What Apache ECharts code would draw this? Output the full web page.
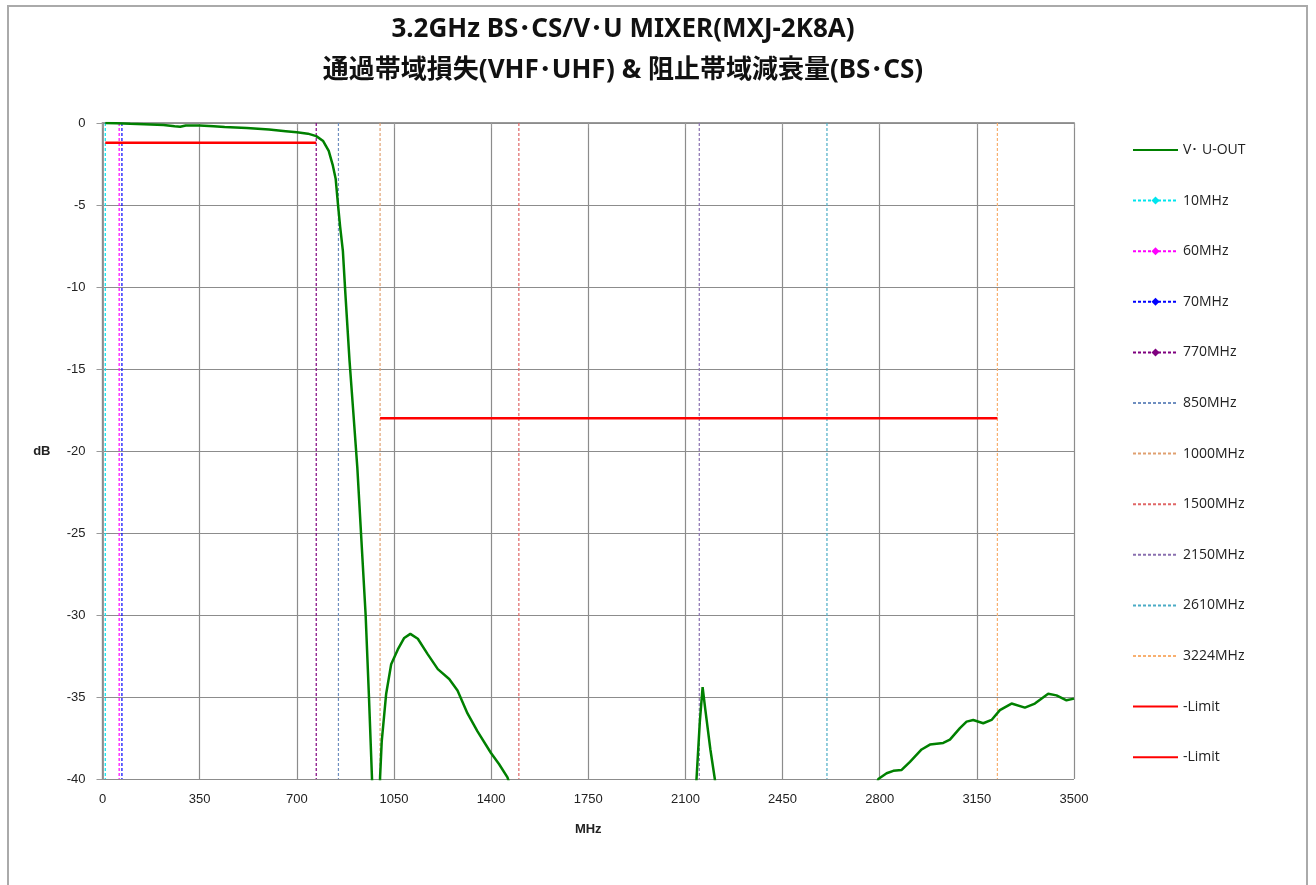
<!DOCTYPE html>
<html>
<head>
<meta charset="utf-8">
<script src="https://cdn.jsdelivr.net/npm/echarts@6/dist/echarts.min.js"></script>
<style>html,body{margin:0;padding:0;background:#fff;}#c{width:1316px;height:885px;}</style>
</head>
<body>
<div id="c"></div>
<script>
const titleLines = ['3.2GHz BS･CS/V･U MIXER(MXJ-2K8A)', '通過帯域損失(VHF･UHF) & 阻止帯域減衰量(BS･CS)'];
const xTicks = [0, 350, 700, 1050, 1400, 1750, 2100, 2450, 2800, 3150, 3500];
const yTicks = [0, -5, -10, -15, -20, -25, -30, -35, -40];

// V・U-OUT response [MHz, dB]
const vuOut = [
  [10, 0], [50, -0.02], [100, -0.05], [150, -0.07], [220, -0.12], [260, -0.2], [280, -0.23], [300, -0.15],
  [350, -0.15], [400, -0.2], [440, -0.25], [520, -0.3], [600, -0.4], [660, -0.5], [700, -0.57],
  [740, -0.65], [770, -0.8], [795, -1.1], [815, -1.7], [830, -2.6], [840, -3.4], [848, -4.9],
  [856, -6.3], [866, -7.8], [875, -10.4], [890, -14.5], [903, -17.5], [918, -21], [933, -25.5],
  [948, -30], [960, -35], [971, -40], [980, -44], [990, -45], [998, -42], [1000, -39.9],
  [1006, -37.7], [1022, -34.8], [1040, -33], [1064, -32.1], [1087, -31.4], [1109, -31.15],
  [1136, -31.45], [1172, -32.4], [1208, -33.3], [1249, -33.9], [1279, -34.6], [1315, -36],
  [1351, -37.1], [1399, -38.4], [1429, -39.1], [1459, -39.9], [1480, -41], [1600, -48],
  [1900, -52], [2100, -46], [2130, -43], [2140, -40], [2152, -36.5], [2162, -34.4],
  [2172, -35.8], [2190, -38.2], [2206, -40], [2220, -42], [2400, -50], [2700, -46],
  [2780, -41], [2795, -40], [2825, -39.65], [2849, -39.5], [2879, -39.45], [2909, -38.95],
  [2951, -38.2], [2981, -37.9], [3029, -37.8], [3053, -37.6], [3089, -36.9], [3113, -36.5],
  [3137, -36.4], [3173, -36.6], [3203, -36.4], [3233, -35.8], [3275, -35.4], [3323, -35.65],
  [3359, -35.4], [3407, -34.8], [3437, -34.9], [3473, -35.2], [3500, -35.1]
];

const markerNames = ['10MHz', '60MHz', '70MHz', '770MHz', '850MHz', '1000MHz', '1500MHz', '2150MHz', '2610MHz', '3224MHz'];
const markerFreqs = [10, 60, 70, 770, 850, 1000, 1500, 2150, 2610, 3224];
const markerColors = ['#00e5ee', '#ff00ff', '#0000ff', '#7f007f', '#6f8fc0', '#e0a070', '#e06666', '#8a70b0', '#4bacc6', '#f8b070'];
const markerHasSymbol = [true, true, true, true, false, false, false, false, false, false];

const limitPass = [[10, -1.2], [770, -1.2]];
const limitStop = [[1000, -18], [3224, -18]];

const mainName = 'V･ U-OUT';
const series = [];
series.push({
  name: mainName, type: 'line', data: vuOut, symbol: 'none', clip: true,
  lineStyle: { color: '#008000', width: 2.5 }, itemStyle: { color: '#008000' }, z: 5
});
markerNames.forEach((n, i) => {
  series.push({
    name: n, type: 'line', data: [[markerFreqs[i], 0], [markerFreqs[i], -40]],
    symbol: 'diamond', symbolSize: 8, showSymbol: false,
    lineStyle: { color: markerColors[i], width: 1.2, type: [3, 2] },
    itemStyle: { color: markerColors[i] }, z: 3
  });
});
series.push({ name: '-Limit', type: 'line', data: limitPass, symbol: 'none', lineStyle: { color: '#ff0000', width: 2.5 }, itemStyle: { color: '#ff0000' }, z: 4 });
series.push({ name: '-Limit ', type: 'line', data: limitStop, symbol: 'none', lineStyle: { color: '#ff0000', width: 2.5 }, itemStyle: { color: '#ff0000' }, z: 4 });

const hidden = { opacity: 0 };
const legendData = [{ name: mainName, itemStyle: hidden }]
  .concat(markerNames.map((n, i) => markerHasSymbol[i] ? { name: n } : { name: n, itemStyle: hidden }))
  .concat([{ name: '-Limit', itemStyle: hidden }, { name: '-Limit ', itemStyle: hidden }]);

const plainFmt = v => String(v);
const titleFont = '"Noto Sans", "Noto Sans CJK JP", sans-serif';

const chart = echarts.init(document.getElementById('c'), null, { renderer: 'canvas' });
chart.setOption({
  animation: false,
  backgroundColor: '#fff',
  textStyle: { fontFamily: '"Noto Sans CJK JP", "Noto Sans", sans-serif' },
  graphic: [
    { type: 'rect', shape: { x: 8, y: 6, width: 1299, height: 900 }, style: { fill: 'none', stroke: '#aaaaaa', lineWidth: 2 }, silent: true }
  ],
  title: [
    { text: titleLines[0], left: 618, top: 12, textAlign: 'center', textStyle: { fontSize: 26, fontWeight: 'bold', color: '#111', fontFamily: titleFont } },
    { text: titleLines[1], left: 618, top: 53, textAlign: 'center', textStyle: { fontSize: 26, fontWeight: 'bold', color: '#111', fontFamily: titleFont } }
  ],
  grid: { left: 102.5, right: 242, top: 123, bottom: 106, show: false },
  legend: {
    orient: 'vertical', left: 1127, top: 138, itemWidth: 45, itemHeight: 10, itemGap: 36.6,
    data: legendData,
    textStyle: { fontSize: 14, color: '#222', fontFamily: '"Open Sans", "Noto Sans", sans-serif', padding: [0, 0, 0, 0] },
    selectedMode: false
  },
  xAxis: [{
    type: 'value', min: 0, max: 3500, interval: 350,
    name: 'MHz', nameLocation: 'middle', nameGap: 44,
    nameTextStyle: { fontSize: 13, fontWeight: 'bold', color: '#222', fontFamily: '"Liberation Sans", sans-serif' },
    axisLine: { show: true, lineStyle: { color: '#999', width: 2 } },
    axisTick: { show: true, length: 5, lineStyle: { color: '#999' } },
    axisLabel: { fontSize: 13, color: '#222', margin: 14, formatter: plainFmt, fontFamily: '"Liberation Sans", sans-serif' },
    splitLine: { show: true, lineStyle: { color: '#8c8c8c', width: 1.2 } }
  }, {
    type: 'value', position: 'top', min: 0, max: 3500,
    axisLine: { show: true, lineStyle: { color: '#8c8c8c', width: 1.2 } }, axisTick: { show: false }, axisLabel: { show: false }, splitLine: { show: false }
  }],
  yAxis: [{
    type: 'value', min: -40, max: 0, interval: 5,
    name: 'dB', nameLocation: 'middle', nameGap: 52, nameRotate: 0,
    nameTextStyle: { fontSize: 13, fontWeight: 'bold', color: '#222', fontFamily: '"Liberation Sans", sans-serif' },
    axisLine: { show: true, lineStyle: { color: '#999', width: 2 } },
    axisTick: { show: true, length: 6, lineStyle: { color: '#999' } },
    axisLabel: { fontSize: 13, color: '#222', margin: 17, formatter: plainFmt, fontFamily: '"Liberation Sans", sans-serif' },
    splitLine: { show: true, lineStyle: { color: '#8c8c8c', width: 1.2 } }
  }, {
    type: 'value', position: 'right', min: -40, max: 0,
    axisLine: { show: true, lineStyle: { color: '#8c8c8c', width: 1.2 } }, axisTick: { show: false }, axisLabel: { show: false }, splitLine: { show: false }
  }],
  series: series
});
</script>
</body>
</html>
